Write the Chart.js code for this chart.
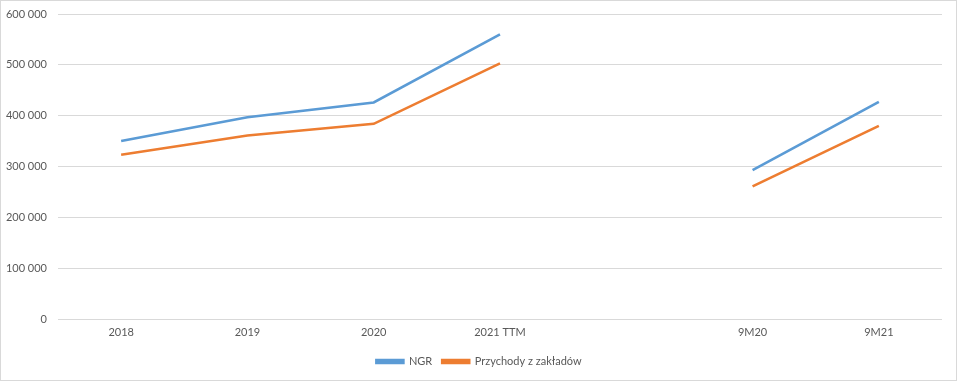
<!DOCTYPE html>
<html>
<head>
<meta charset="utf-8">
<script src="https://cdn.jsdelivr.net/npm/chart.js@4"></script>
<style>
  html, body { margin: 0; padding: 0; background: #fff; }
  #wrap { position: absolute; left: 0; top: 0; width: 957px; height: 381px; box-sizing: border-box; border: 1px solid #d9d9d9; }
  #chart { position: absolute; left: -1px; top: -1px; }
</style>
</head>
<body>
<div id="wrap"><canvas id="chart" width="958" height="381"></canvas></div>
<script>
const categories = ["2018", "2019", "2020", "2021 TTM", "", "9M20", "9M21"];
const ngr = [350000, 397000, 426000, 560000, null, 293000, 427000];
const przychody = [323000, 361000, 384000, 503000, null, 261000, 380000];
const yTicks = [0, 100000, 200000, 300000, 400000, 500000, 600000];

const fmt = v => String(v).replace(/\B(?=(\d{3})+(?!\d))/g, " ");
const font = { family: "Lato, 'Liberation Sans', sans-serif", size: 11 };

new Chart(document.getElementById("chart"), {
  type: "line",
  data: {
    labels: categories,
    datasets: [
      { label: "NGR", data: ngr, borderColor: "#5B9BD5", backgroundColor: "#5B9BD5", borderWidth: 2.6, pointRadius: 0, spanGaps: false },
      { label: "Przychody z zakładów", data: przychody, borderColor: "#ED7D31", backgroundColor: "#ED7D31", borderWidth: 2.6, pointRadius: 0, spanGaps: false }
    ]
  },
  options: {
    responsive: false,
    animation: false,
    layout: { padding: { top: 14, right: 0, left: 0, bottom: 4 } },
    plugins: {
      legend: {
        position: "bottom",
        labels: { boxWidth: 27, boxHeight: 3, color: "#595959", font: font, padding: 10 }
      },
      tooltip: { enabled: false }
    },
    scales: {
      x: {
        offset: true,
        grid: { display: false, drawTicks: false },
        border: { display: false },
        ticks: { color: "#595959", font: font, padding: 7, maxRotation: 0, autoSkip: false },
        afterFit: s => { s.height = 27; }
      },
      y: {
        min: 0, max: 600000,
        afterBuildTicks: s => { s.ticks = yTicks.map(v => ({ value: v })); },
        grid: { color: "#d9d9d9", drawTicks: false },
        border: { display: false },
        ticks: { color: "#595959", font: font, padding: 11, callback: v => fmt(v) },
        afterFit: s => { s.width = 58; s.paddingTop = 0; s.paddingBottom = 0; }
      },
      // empty right axis, only keeps the plot clear of the right edge
      yRight: {
        position: "right",
        min: 0, max: 600000,
        grid: { display: false, drawTicks: false },
        border: { display: false },
        ticks: { display: false },
        afterFit: s => { s.width = 16; s.paddingTop = 0; s.paddingBottom = 0; }
      }
    }
  }
});
</script>
</body>
</html>
